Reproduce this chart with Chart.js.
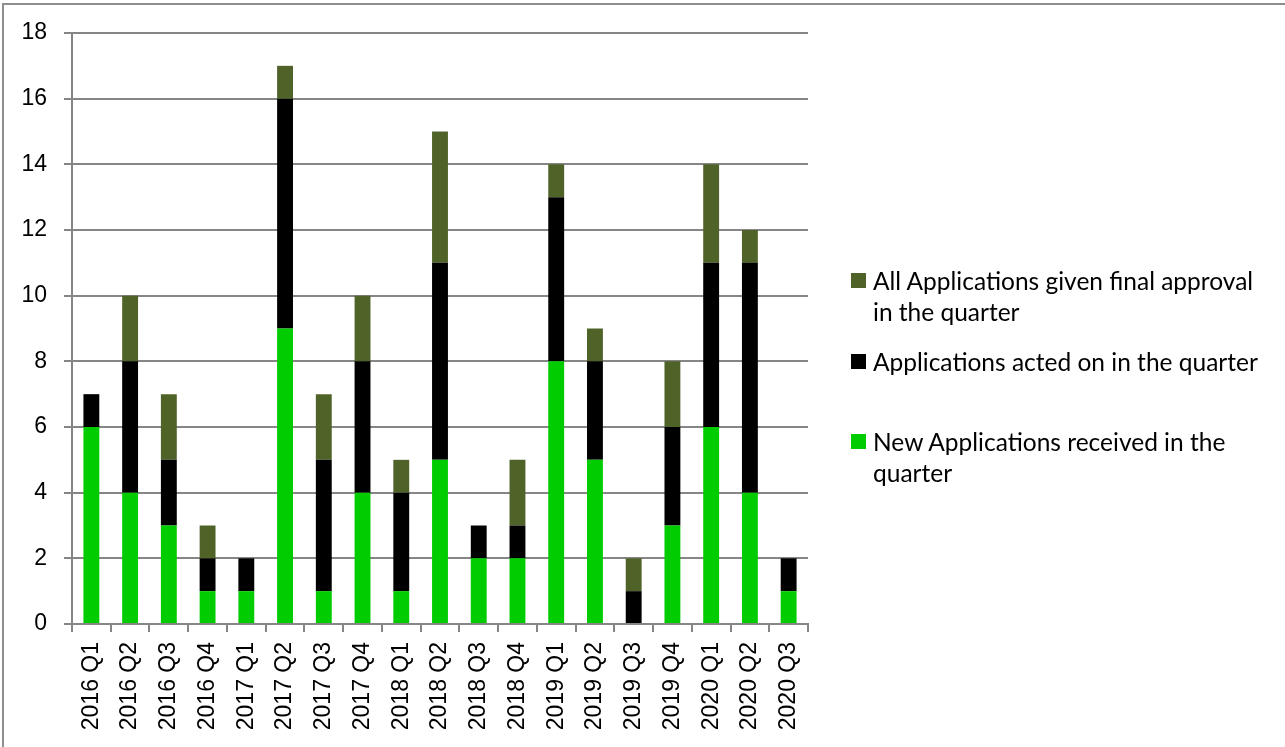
<!DOCTYPE html>
<html>
<head>
<meta charset="utf-8">
<title>Applications by quarter</title>
<script src="https://cdn.jsdelivr.net/npm/chart.js@4.4.0/dist/chart.umd.min.js"></script>
<style>
  html, body { margin: 0; padding: 0; background: #ffffff; overflow: hidden; }
  #frame {
    position: absolute; left: 2px; top: 3px; width: 1320px; height: 780px;
    border: 2px solid #8e8e8e; box-sizing: border-box;
  }
  #wrap { position: absolute; left: 0; top: 0; width: 1285px; height: 747px; }
  #legend {
    position: absolute; left: 851px; top: 0;
    font-family: Lato, "Open Sans", sans-serif; font-size: 24.5px; color: #000000;
  }
  .item { position: absolute; left: 0; display: flex; line-height: 31px; }
  .item span.txt { width: 396px; }
  .box { width: 15px; height: 15px; margin-top: 8px; margin-right: 7px; flex: none; }
</style>
</head>
<body>
<div id="frame"></div>
<div id="wrap">
  <canvas id="grafico" width="1285" height="747"></canvas>
  <div id="legend"></div>
</div>
<script>
// Categorias (trimestres)
const quarters = [
  "2016 Q1", "2016 Q2", "2016 Q3", "2016 Q4",
  "2017 Q1", "2017 Q2", "2017 Q3", "2017 Q4",
  "2018 Q1", "2018 Q2", "2018 Q3", "2018 Q4",
  "2019 Q1", "2019 Q2", "2019 Q3", "2019 Q4",
  "2020 Q1", "2020 Q2", "2020 Q3"
];

// Séries (empilhadas, de baixo para cima)
const newApplications = [6, 4, 3, 1, 1, 9, 1, 4, 1, 5, 2, 2, 8, 5, 0, 3, 6, 4, 1];
const actedOn         = [1, 4, 2, 1, 1, 7, 4, 4, 3, 6, 1, 1, 5, 3, 1, 3, 5, 7, 1];
const finalApproval   = [0, 2, 2, 1, 0, 1, 2, 2, 1, 4, 0, 2, 1, 1, 1, 2, 3, 1, 0];

const seriesNames = [
  "New Applications received in the quarter",
  "Applications acted on in the quarter",
  "All Applications given final approval in the quarter"
];

// Eixo Y
const yTicks = [0, 2, 4, 6, 8, 10, 12, 14, 16, 18];

const colors = ["#00cc00", "#000000", "#4f6228"];
const axisFont = { family: "'Liberation Sans', Arial, sans-serif", size: 23 };
const lineGray = "#868686";

const chart = new Chart(document.getElementById("grafico"), {
  type: "bar",
  data: {
    labels: quarters,
    datasets: [newApplications, actedOn, finalApproval].map((d, i) => ({
      label: seriesNames[i],
      data: d,
      backgroundColor: colors[i],
      borderWidth: 0,
      barPercentage: 0.41,
      categoryPercentage: 1.0
    }))
  },
  options: {
    responsive: false,
    animation: false,
    layout: { padding: { top: 33, right: 477, left: 0, bottom: 0 } },
    plugins: {
      legend: { display: false },
      tooltip: { enabled: false }
    },
    scales: {
      x: {
        stacked: true,
        grid: {
          offset: true,
          drawOnChartArea: false,
          drawTicks: true,
          tickLength: 8,
          color: lineGray,
          lineWidth: 2
        },
        border: { color: lineGray, width: 2 },
        ticks: {
          color: "#000000",
          font: axisFont,
          minRotation: 90,
          maxRotation: 90,
          autoSkip: false,
          padding: 10
        },
        afterFit: s => { s.height = 123; }
      },
      y: {
        stacked: true,
        min: yTicks[0],
        max: yTicks[yTicks.length - 1],
        afterBuildTicks: s => { s.ticks = yTicks.map(v => ({ value: v })); },
        grid: { color: lineGray, lineWidth: 2, tickLength: 8 },
        border: { color: lineGray, width: 2 },
        ticks: { color: "#000000", font: axisFont, padding: 17 },
        afterFit: s => { s.width = 72; }
      }
    }
  }
});

// Legenda (ordem invertida, como no original)
const legendTops = [265, 346, 426];
const legend = document.getElementById("legend");
[2, 1, 0].forEach((idx, k) => {
  const item = document.createElement("div");
  item.className = "item";
  item.style.top = legendTops[k] + "px";
  const box = document.createElement("span");
  box.className = "box";
  box.style.background = colors[idx];
  const txt = document.createElement("span");
  txt.className = "txt";
  txt.textContent = seriesNames[idx];
  item.appendChild(box);
  item.appendChild(txt);
  legend.appendChild(item);
});
</script>
</body>
</html>
